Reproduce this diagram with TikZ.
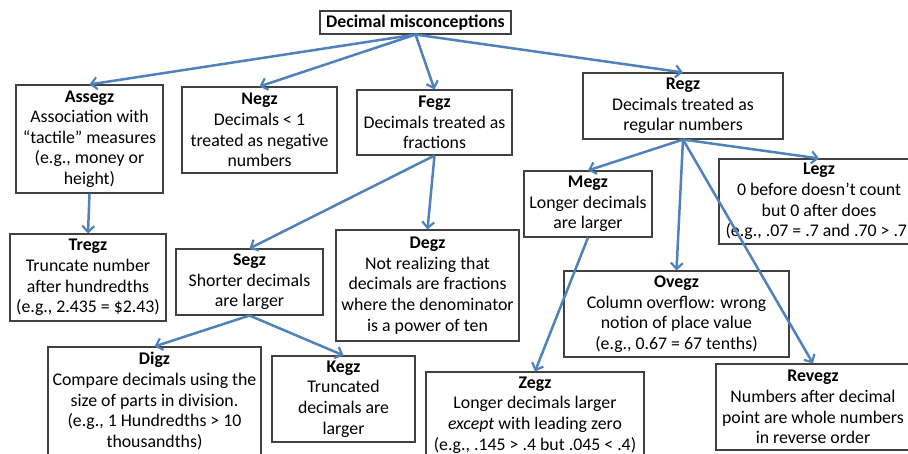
\documentclass[tikz,border=0pt]{standalone}
\usepackage{fontspec}
\setmainfont{Carlito}
\usetikzlibrary{arrows.meta}
\definecolor{arrowblue}{RGB}{79,129,189}
\definecolor{boxgray}{RGB}{64,64,64}
\begin{document}
\begin{tikzpicture}[x=1pt,y=-1pt,
  box/.style={draw=boxgray,line width=1.1pt,fill=white,inner sep=0pt,align=center,
    font=\fontsize{17.8}{20.6}\selectfont},
  conn/.style={draw=arrowblue,line width=2.5pt,-{Straight Barb[length=6pt,width=12pt,line width=2.2pt]}}]
\useasboundingbox (0,0) rectangle (908,454);
\clip (0,0) rectangle (908,454);
\node[box,minimum width=191pt,minimum height=23pt] (title) at (415.5,22.5) {\textbf{Decimal misconceptions}};
\node[box,minimum width=147pt,minimum height=108pt] (assegz) at (89.5,139) {\textbf{Assegz}\\Association with\\“tactile” measures\\(e.g., money or\\height)};
\node[box,minimum width=155pt,minimum height=86pt] (negz) at (259.5,130) {\textbf{Negz}\\Decimals < 1\\treated as negative\\numbers};
\node[box,minimum width=155pt,minimum height=65pt] (fegz) at (434.5,122.5) {\textbf{Fegz}\\Decimals treated as\\fractions};
\node[box,minimum width=200pt,minimum height=66pt] (regz) at (683,106) {\textbf{Regz}\\Decimals treated as\\regular numbers};
\node[box,minimum width=128pt,minimum height=66pt] (megz) at (588,204) {\textbf{Megz}\\Longer decimals\\are larger};
\node[box,minimum width=200pt,minimum height=85pt] (legz) at (819,201.5) {\textbf{Legz}\\0 before doesn’t count\\but 0 after does\\(e.g., .07 = .7 and .70 > .7)};
\node[box,minimum width=156pt,minimum height=87pt] (tregz) at (88,277.5) {\textbf{Tregz}\\Truncate number\\after hundredths\\(e.g., 2.435 = \$2.43)};
\node[box,minimum width=147pt,minimum height=66pt] (segz) at (249.5,282) {\textbf{Segz}\\Shorter decimals\\are larger};
\node[box,minimum width=183pt,minimum height=111pt] (degz) at (427.5,285.5) {\textbf{Degz}\\Not realizing that\\decimals are fractions\\where the denominator\\is a power of ten};
\node[box,minimum width=213pt,minimum height=108pt] (digz) at (154.5,401) {\textbf{Digz}\\Compare decimals using the\\size of parts in division.\\(e.g., 1 Hundredths > 10\\thousandths)};
\node[box,minimum width=143pt,minimum height=86pt] (kegz) at (343.5,399) {\textbf{Kegz}\\Truncated\\decimals are\\larger};
\node[box,minimum width=225pt,minimum height=86pt] (ovegz) at (676.5,314) {\textbf{Ovegz}\\Column overflow: wrong\\notion of place value\\(e.g., 0.67 = 67 tenths)};
\node[box,minimum width=218pt,minimum height=86pt] (zegz) at (535,415) {\textbf{Zegz}\\Longer decimals larger\\\emph{except} with leading zero\\(e.g., .145 > .4 but .045 < .4)};
\node[box,minimum width=194pt,minimum height=86pt] (revegz) at (813,407) {\textbf{Revegz}\\Numbers after decimal\\point are whole numbers\\in reverse order};
\draw[conn] (title.south) -- (assegz.north);
\draw[conn] (title.south) -- (negz.north);
\draw[conn] (title.south) -- (fegz.north);
\draw[conn] (title.south) -- (regz.north);
\draw[conn] (assegz.south) -- (tregz.north);
\draw[conn] (fegz.south) -- (segz.north);
\draw[conn] (fegz.south) -- (degz.north);
\draw[conn] (segz.south) -- (digz.north);
\draw[conn] (segz.south) -- (kegz.north);
\draw[conn] (regz.south) -- (megz.north);
\draw[conn] (regz.south) -- (legz.north);
\draw[conn] (regz.south) -- (ovegz.north);
\draw[conn] (regz.south) -- (revegz.north);
\draw[conn] (megz.south) -- (zegz.north);
\end{tikzpicture}
\end{document}
